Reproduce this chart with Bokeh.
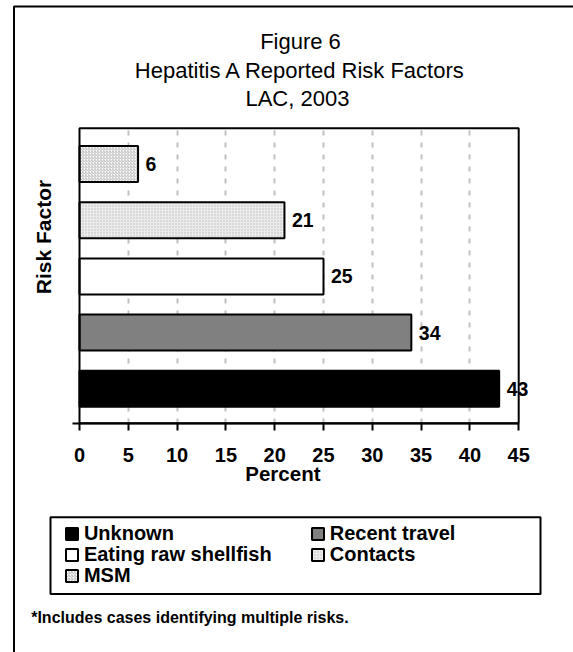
from bokeh.plotting import figure
from bokeh.models import (ColumnDataSource, Range1d, FixedTicker, LabelSet, Label,
                          BoxAnnotation, Legend, LegendItem)
from bokeh.core.properties import value
from bokeh.embed import file_html
from bokeh.resources import INLINE

# ---- data ----
categories = ["Unknown", "Recent travel", "Eating raw shellfish", "Contacts", "MSM"]
percents = [43, 34, 25, 21, 6]
x_ticks = [0, 5, 10, 15, 20, 25, 30, 35, 40, 45]
title_lines = ["Figure 6", "Hepatitis A Reported Risk Factors", "LAC,  2003"]
x_label = "Percent"
y_label = "Risk Factor"
footnote = "*Includes cases identifying multiple risks."

# category positions on the value axis (bottom to top)
ypos = list(range(1, len(categories) + 1))

# ---- styles / layout ----
FONT = "Liberation Sans"
fills = ["#000000", "#808080", "#ffffff", "#ececec", "#ffffff"]
hatches = ["blank", "blank", "blank", "dot", "right_diagonal_line"]
hatch_colors = ["#000000", "#000000", "#000000", "#b8b8b8", "#bcbcbc"]
X_MIN, X_MAX = 0, 45
Y_LO, Y_HI = 0.388, 5.637          # extent of the plot box in y units

W, H = 573, 652
p = figure(width=W, height=H,
           x_range=Range1d(-8.094, 50.615), y_range=Range1d(-3.692, 7.909),
           output_backend="svg", toolbar_location=None, min_border=0)
p.background_fill_color = "white"
p.border_fill_color = "white"
p.outline_line_color = None

src = ColumnDataSource(dict(cat=categories, y=ypos, pct=percents, fill=fills,
                            hatch=hatches, hcol=hatch_colors,
                            label=[str(v) for v in percents]))

# grid
p.ygrid.grid_line_color = None
p.xgrid.grid_line_color = "#c0c0c0"
p.xgrid.grid_line_width = 2
p.xgrid.grid_line_dash = "5 7"
p.xgrid.ticker = FixedTicker(ticks=x_ticks[1:-1])
p.xgrid.cross_bounds = (Y_LO, Y_HI)

r = p.hbar(y="y", left=0, right="pct", height=0.64, source=src,
           fill_color="fill", line_color="black", line_width=2,
           hatch_pattern="hatch", hatch_color="hcol", hatch_scale=3,
           hatch_weight=1)

# plot-area box
p.add_layout(BoxAnnotation(left=X_MIN, right=X_MAX, bottom=Y_LO, top=Y_HI,
                           fill_alpha=0, line_color="black", line_alpha=1,
                           line_width=2))

labels = LabelSet(x="pct", y="y", text="label", source=src, x_offset=7.5,
                  text_baseline="middle", text_align="left",
                  text_font=value(FONT), text_font_style="bold",
                  text_font_size="19.5px", text_color="black")
p.add_layout(labels)

# axes
p.yaxis.visible = False
xa = p.xaxis[0]
xa.fixed_location = Y_LO
xa.ticker = FixedTicker(ticks=x_ticks)
xa.bounds = (X_MIN - 0.75, X_MAX)
xa.axis_line_color = "black"
xa.axis_line_width = 2
xa.major_tick_line_color = "black"
xa.major_tick_line_width = 2
xa.major_tick_in = 0
xa.major_tick_out = 7
xa.minor_tick_line_color = None
xa.major_label_standoff = 18
xa.major_label_text_font = FONT
xa.major_label_text_font_style = "bold"
xa.major_label_text_font_size = "20px"
xa.major_label_text_color = "black"

def canvas_label(txt, x, y, size, bold=False, align="left", angle=0):
    p.add_layout(Label(x=x, y=y, x_units="canvas", y_units="canvas", text=txt,
                       angle=angle, angle_units="deg",
                       text_align=align, text_baseline="middle",
                       text_font=FONT, text_font_style="bold" if bold else "normal",
                       text_font_size=size, text_color="black"))

for txt, yc in zip(title_lines, [41.3, 70.0, 97.5]):
    canvas_label(txt, 300, yc, "22px", align="center")
canvas_label(x_label, 282.4, 473, "20.5px", bold=True, align="center")
canvas_label(y_label, 43.3, 236.5, "21px", bold=True, align="center", angle=90)
canvas_label(footnote, 30.7, 617, "16px", bold=True)

# outer frame and legend box
p.add_layout(BoxAnnotation(left=13.5, right=3000, top=6, bottom=3000,
                           left_units="canvas", right_units="canvas",
                           top_units="canvas", bottom_units="canvas",
                           fill_alpha=0, line_color="black", line_alpha=1,
                           line_width=2))
p.add_layout(BoxAnnotation(left=50, right=540, top=516.7, bottom=593.5,
                           left_units="canvas", right_units="canvas",
                           top_units="canvas", bottom_units="canvas",
                           fill_alpha=0, line_color="black", line_alpha=1,
                           line_width=2))

# legend: one entry per cell (2 columns, row-major)
col_x = [63.9, 309.8]
row_center = [533.7, 554.7, 575.5]
ITEM_H = 23
for k in range(len(categories)):
    row, col = divmod(k, 2)
    lg = Legend(items=[LegendItem(label=categories[k], renderers=[r], index=k)],
                location=(col_x[col], H - (row_center[row] + ITEM_H / 2)),
                orientation="vertical",
                glyph_width=15, glyph_height=15, label_standoff=5,
                padding=0, spacing=0, margin=0,
                border_line_color=None, background_fill_alpha=0,
                label_text_font=FONT, label_text_font_style="bold",
                label_text_font_size="20px", label_text_color="black",
                label_height=21)
    p.add_layout(lg, "center")

open("out.html", "w").write(file_html(p, INLINE))
